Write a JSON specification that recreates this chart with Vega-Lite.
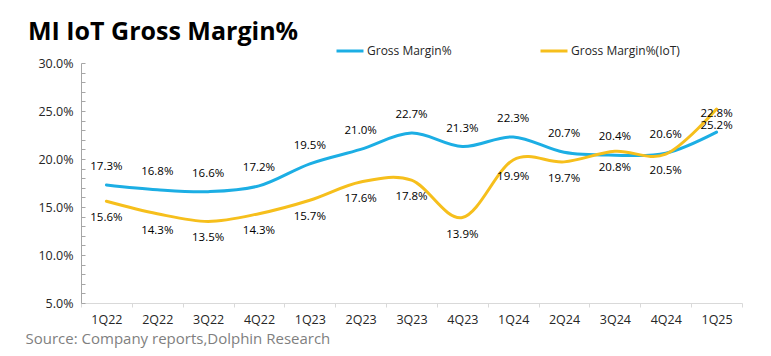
{
  "$schema": "https://vega.github.io/schema/vega-lite/v6.json",
  "width": 661,
  "height": 240,
  "autosize": {"type": "none"},
  "padding": {"left": 81, "top": 63, "right": 29, "bottom": 53},
  "background": "white",
  "title": {
    "text": "MI IoT Gross Margin%",
    "anchor": "start",
    "frame": "group",
    "dx": -53,
    "dy": 29,
    "offset": 0,
    "baseline": "alphabetic",
    "font": "Open Sans",
    "fontSize": 25,
    "fontWeight": "bold",
    "color": "#000000"
  },
  "data": {
    "values": [
      {"q": "1Q22", "series": "Gross Margin%", "v": 0.173},
      {"q": "2Q22", "series": "Gross Margin%", "v": 0.168},
      {"q": "3Q22", "series": "Gross Margin%", "v": 0.166},
      {"q": "4Q22", "series": "Gross Margin%", "v": 0.172},
      {"q": "1Q23", "series": "Gross Margin%", "v": 0.195},
      {"q": "2Q23", "series": "Gross Margin%", "v": 0.210},
      {"q": "3Q23", "series": "Gross Margin%", "v": 0.227},
      {"q": "4Q23", "series": "Gross Margin%", "v": 0.213},
      {"q": "1Q24", "series": "Gross Margin%", "v": 0.223},
      {"q": "2Q24", "series": "Gross Margin%", "v": 0.207},
      {"q": "3Q24", "series": "Gross Margin%", "v": 0.204},
      {"q": "4Q24", "series": "Gross Margin%", "v": 0.206},
      {"q": "1Q25", "series": "Gross Margin%", "v": 0.228},
      {"q": "1Q22", "series": "Gross Margin%(IoT)", "v": 0.156},
      {"q": "2Q22", "series": "Gross Margin%(IoT)", "v": 0.143},
      {"q": "3Q22", "series": "Gross Margin%(IoT)", "v": 0.135},
      {"q": "4Q22", "series": "Gross Margin%(IoT)", "v": 0.143},
      {"q": "1Q23", "series": "Gross Margin%(IoT)", "v": 0.157},
      {"q": "2Q23", "series": "Gross Margin%(IoT)", "v": 0.176},
      {"q": "3Q23", "series": "Gross Margin%(IoT)", "v": 0.178},
      {"q": "4Q23", "series": "Gross Margin%(IoT)", "v": 0.139},
      {"q": "1Q24", "series": "Gross Margin%(IoT)", "v": 0.199},
      {"q": "2Q24", "series": "Gross Margin%(IoT)", "v": 0.197},
      {"q": "3Q24", "series": "Gross Margin%(IoT)", "v": 0.208},
      {"q": "4Q24", "series": "Gross Margin%(IoT)", "v": 0.205},
      {"q": "1Q25", "series": "Gross Margin%(IoT)", "v": 0.252}
    ]
  },
  "encoding": {
    "x": {
      "field": "q",
      "type": "ordinal",
      "sort": null,
      "scale": {"type": "band", "paddingInner": 0, "paddingOuter": 0},
      "axis": {
        "title": "Source: Company reports,Dolphin Research",
        "titleX": -56,
        "titleY": 35,
        "titleAlign": "left",
        "titleAnchor": null,
        "titleBaseline": "middle",
        "titleFont": "Open Sans",
        "titleFontSize": 15,
        "titleFontWeight": "normal",
        "titleColor": "#7f7f7f",
        "labelAngle": 0,
        "labelFont": "Open Sans",
        "labelFontSize": 12.5,
        "labelColor": "#262626",
        "labelPadding": 6,
        "domainColor": "#d9d9d9",
        "domainWidth": 1,
        "ticks": true,
        "tickBand": "extent",
        "tickSize": 4,
        "tickColor": "#d9d9d9",
        "grid": false
      }
    },
    "y": {
      "field": "v",
      "type": "quantitative",
      "scale": {"domain": [0.05, 0.30], "nice": false, "zero": false},
      "axis": {
        "title": null,
        "values": [0.05,0.06,0.07,0.08,0.09,0.10,0.11,0.12,0.13,0.14,0.15,0.16,0.17,0.18,0.19,0.20,0.21,0.22,0.23,0.24,0.25,0.26,0.27,0.28,0.29,0.30],
        "labelExpr": "round(datum.value*100) % 5 == 0 ? format(datum.value, '.1%') : ''",
        "labelFont": "Open Sans",
        "labelFontSize": 12.5,
        "labelColor": "#262626",
        "labelPadding": 12,
        "tickSize": -4,
        "tickColor": "#a6a6a6",
        "domainColor": "#a6a6a6",
        "grid": false
      }
    }
  },
  "layer": [
    {
      "mark": {"type": "line", "interpolate": "cardinal", "strokeWidth": 3, "strokeCap": "round"},
      "encoding": {
        "color": {
          "field": "series",
          "type": "nominal",
          "scale": {"domain": ["Gross Margin%", "Gross Margin%(IoT)"], "range": ["#1caee4", "#f6bf1c"]},
          "legend": {
            "title": null,
            "orient": "none",
            "direction": "horizontal",
            "legendX": 254,
            "legendY": -27,
            "symbolType": "stroke",
            "symbolSize": 729,
            "symbolStrokeWidth": 3,
            "labelFont": "Open Sans",
            "labelFontSize": 12,
            "labelColor": "#262626",
            "labelOffset": 2,
            "columnPadding": 82
          }
        }
      }
    },
    {
      "transform": [{"filter": "datum.series == 'Gross Margin%'"}],
      "mark": {"type": "text", "dy": -18, "font": "Open Sans", "fontSize": 11.5, "color": "#000000"},
      "encoding": {"text": {"field": "v", "type": "quantitative", "format": ".1%"}}
    },
    {
      "transform": [{"filter": "datum.series == 'Gross Margin%(IoT)'"}],
      "mark": {"type": "text", "dy": 17, "font": "Open Sans", "fontSize": 11.5, "color": "#000000"},
      "encoding": {"text": {"field": "v", "type": "quantitative", "format": ".1%"}}
    }
  ],
  "config": {"view": {"stroke": null}}
}
